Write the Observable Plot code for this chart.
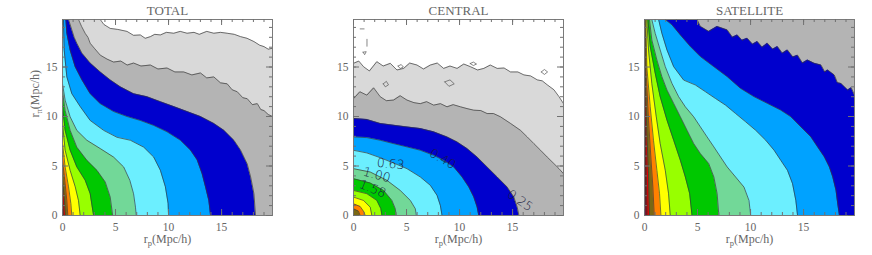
<!DOCTYPE html>
<html><head><meta charset="utf-8">
<script src="https://cdn.jsdelivr.net/npm/d3@7"></script>
<script src="https://cdn.jsdelivr.net/npm/@observablehq/plot@0.6"></script>
<style>
body{margin:0;background:#fff;width:872px;height:255px;overflow:hidden}
#row{display:flex}
</style></head><body><div id="row"></div>
<script>
const XMAX = 19.8, YMAX = 19.8;
const panelTitles = ["TOTAL", "CENTRAL", "SATELLITE"];
const majorTicks = [0, 5, 10, 15];
const minorTicks = [0,1,2,3,4,5,6,7,8,9,10,11,12,13,14,15,16,17,18,19];
const levelNames = ["0.10","0.16","0.25","0.40","0.63","1.00","1.58","2.51","3.98","6.31","10.0","15.8","25.1","39.8"];
const fillColors = ["#d9d9d9","#b4b4b4","#0000cd","#00a2ff","#6cefff","#72d898","#00c800","#98ff00","#ffff00","#ff8000","#7a6814","#e00000","#8b0000","#cc00cc"];

// TOTAL boundaries [rp, rpi]
const totalL010 = [[3.56,19.8],[3.9,19.3],[4.5,18.9],[5.2,18.8],[6.08,18.6],[6.7,18.2],[7.34,18.24],[7.8,17.9],[8.29,18.07],[8.7,18.3],[9.23,18.24],[9.8,18.5],[10.49,18.41],[11.1,18.6],[11.75,18.41],[12.4,18.5],[12.9,18.3],[13.6,18.6],[14.27,18.41],[14.9,18.5],[15.53,18.41],[16.2,18.3],[16.79,18.07],[17.4,17.9],[18.05,17.57],[18.6,17.2],[19.0,17.06],[19.4,16.8],[19.8,16.9]];
const totalL016 = [[1.51,19.8],[1.8,19.1],[2.14,18.4],[2.4,18.0],[2.61,17.4],[3.0,16.9],[3.56,16.2],[4.2,15.8],[4.82,15.5],[5.5,15.6],[6.1,15.2],[6.71,15.4],[7.4,15.1],[8.29,15.2],[9.0,14.8],[9.86,14.9],[10.6,14.5],[11.44,14.5],[12.2,14.2],[13.01,14.4],[13.6,13.9],[14.27,14.0],[14.9,13.4],[15.53,13.3],[16.0,12.7],[16.48,12.5],[17.0,11.9],[17.42,11.8],[17.9,11.2],[18.37,11.3],[18.7,10.7],[19.0,10.6],[19.4,10.2],[19.8,10.0]];
const totalL025 = [[0.57,19.8],[0.88,18.75],[1.1,18.0],[1.35,17.4],[1.83,16.4],[2.61,15.4],[3.56,14.5],[4.5,13.7],[5.45,13.0],[6.71,12.3],[7.97,12.0],[9.23,11.5],[10.49,11.0],[11.75,10.5],[13.01,10.0],[14.27,9.3],[15.22,8.6],[16.16,7.6],[16.79,6.6],[17.42,5.2],[17.74,3.9],[18.05,2.2],[18.2,0]];
const totalL040 = [[0.32,19.8],[0.41,18.4],[0.72,16.7],[1.2,15.0],[1.83,13.7],[2.61,12.3],[3.56,11.3],[4.82,10.5],[6.08,10.0],[7.34,9.6],[8.6,9.1],[9.86,8.45],[11.12,7.6],[12.07,6.6],[12.7,5.6],[13.17,4.2],[13.48,2.9],[13.8,1.5],[13.96,0]];
const totalL063 = [[0.09,19.8],[0.16,16.7],[0.41,14.0],[0.88,12.3],[1.67,11.0],[2.61,9.6],[3.88,8.6],[5.14,7.9],[6.4,7.6],[7.66,6.9],[8.6,5.9],[9.23,4.56],[9.7,2.9],[9.96,1.2],[10.0,0]];
const totalL100 = [[0,13.3],[0.25,11.65],[0.72,9.97],[1.35,8.6],[2.3,7.6],[3.56,6.76],[4.82,5.9],[5.77,4.9],[6.35,3.55],[6.7,2.2],[6.88,0.84],[6.95,0]];
const totalL158 = [[0,12.5],[0.25,10.6],[0.72,8.6],[1.35,6.9],[2.3,5.57],[3.25,4.56],[4.03,3.38],[4.5,1.86],[4.73,0]];
const totalL251 = [[0,11.0],[0.25,8.6],[0.72,6.6],[1.35,4.9],[2.14,3.55],[2.61,2.2],[2.93,0]];
const totalL398 = [[0,9.3],[0.25,6.6],[0.72,4.56],[1.2,2.9],[1.51,1.5],[1.67,0]];
const totalL631 = [[0,7.3],[0.25,4.9],[0.57,2.9],[0.79,1.2],[0.88,0]];
const totalL1000 = [[0,5.6],[0.25,3.2],[0.41,1.5],[0.5,0]];
const totalL1580 = [[0,3.55],[0.19,1.5],[0.28,0]];
const totalL2510 = [[0,2.2],[0.1,0]];

// CENTRAL boundaries
const centralL010 = [[0,15.37],[0.5,15.6],[0.95,15.03],[1.5,14.6],[2.2,15.54],[2.8,15.1],[3.47,15.37],[4.1,14.7],[4.73,14.86],[5.3,15.4],[5.99,15.2],[6.6,14.8],[7.25,15.2],[7.9,15.4],[8.5,14.86],[9.1,15.1],[9.77,14.86],[10.4,15.3],[11.03,15.03],[11.7,14.7],[12.29,14.86],[12.9,15.2],[13.55,14.86],[14.2,14.9],[14.81,14.5],[15.5,14.5],[16.07,14.2],[16.7,14.1],[17.33,13.7],[17.8,13.6],[18.27,13.2],[18.9,12.7],[19.38,12.0],[19.8,11.3]];
const centralL016 = [[0,11.8],[0.6,12.5],[1.26,12.16],[1.9,12.9],[2.52,12.0],[3.1,11.6],[3.78,11.66],[4.4,12.1],[5.04,11.66],[5.7,11.4],[6.3,11.3],[6.9,11.5],[7.56,11.15],[8.2,11.3],[8.82,10.98],[9.4,11.2],[10.08,10.98],[10.7,10.8],[11.34,10.64],[12.0,10.6],[12.6,10.3],[13.2,10.3],[13.86,9.97],[14.81,9.3],[15.75,8.6],[16.38,7.94],[17.01,7.26],[17.64,6.59],[18.27,5.9],[18.9,5.24],[19.38,4.73],[19.8,4.22]];
const centralL025 = [[0,9.8],[1.26,9.7],[2.52,9.3],[3.78,9.12],[5.04,8.95],[6.3,8.78],[7.56,8.45],[8.82,7.94],[9.77,7.43],[10.71,6.76],[11.66,5.9],[12.6,4.9],[13.55,3.89],[14.49,2.87],[15.12,1.86],[15.44,0.84],[15.6,0]];
const centralL040 = [[0,7.94],[1.26,7.87],[2.52,7.6],[3.78,7.26],[5.04,6.93],[6.3,6.59],[7.56,6.08],[8.5,5.57],[9.45,4.9],[10.24,3.89],[10.87,2.87],[11.34,1.86],[11.66,0.84],[11.81,0]];
const centralL063 = [[0,6.59],[1.26,6.32],[2.52,5.84],[3.78,5.3],[5.04,4.73],[6.3,3.89],[7.25,3.04],[7.88,2.03],[8.19,1.01],[8.35,0]];
const centralL100 = [[0,4.73],[1.58,4.39],[3.15,3.55],[4.41,2.53],[5.36,1.52],[5.83,0.68],[5.92,0]];
const centralL158 = [[0,3.72],[1.58,3.28],[2.84,2.53],[3.62,1.52],[3.94,0.68],[4.03,0]];
const centralL251 = [[0,2.53],[1.26,2.2],[2.2,1.52],[2.58,0.68],[2.68,0]];
const centralL398 = [[0,1.86],[0.95,1.52],[1.58,0.84],[1.73,0]];
const centralL631 = [[0,1.18],[0.63,0.91],[1.0,0.34],[1.1,0]];
const centralL1000 = [[0,0.68],[0.47,0.44],[0.63,0]];
// small isolated contour fragments in the CENTRAL outskirts [id, rp, rpi]
const centralIslands = [
  [1,0.63,18.85],[1,1.0,18.85],
  [2,1.27,17.8],[2,1.27,17.1],
  [3,0.9,16.5],[3,1.2,16.55],[3,1.05,16.25],[3,0.9,16.5],
  [4,4.2,15.1],[4,4.5,15.25],[4,4.7,15.0],[4,4.4,14.85],[4,4.2,15.1],
  [5,11.0,15.35],[5,11.3,15.5],[5,11.6,15.3],[5,11.3,15.15],[5,11.0,15.35],
  [6,8.6,13.5],[6,9.1,13.7],[6,9.5,13.3],[6,9.0,13.05],[6,8.6,13.5],
  [7,17.7,14.5],[7,18.0,14.75],[7,18.3,14.5],[7,18.0,14.25],[7,17.7,14.5],
  [8,2.8,13.3],[8,3.1,13.55],[8,3.3,13.2],[8,3.0,13.0],[8,2.8,13.3]
];
const centralLabelText = ["0.25","0.40","0.63","1.00","1.58"];
const centralLabelX = [15.7, 8.4, 3.5, 2.2, 1.8];
const centralLabelY = [1.5, 5.7, 5.2, 4.1, 2.7];
const centralLabelAngle = [35, 30, 5, 15, 22];

// SATELLITE boundaries
const satL025 = [[4.96,19.8],[5.27,19.1],[6.06,18.6],[6.85,19.1],[7.8,18.75],[8.3,18.0],[8.75,18.24],[9.2,17.7],[9.69,17.9],[10.2,17.3],[10.64,17.57],[11.1,17.0],[11.59,17.4],[12.1,16.8],[12.54,17.06],[13.0,16.4],[13.48,16.72],[14.0,16.0],[14.43,16.2],[14.9,15.4],[15.38,15.7],[16.01,15.37],[16.64,15.2],[17.0,14.5],[17.27,14.7],[17.9,14.19],[18.2,13.4],[18.53,13.34],[19.17,12.67],[19.5,12.9],[19.8,12.16]];
const satL040 = [[1.96,19.8],[2.59,19.26],[3.38,18.24],[4.33,17.06],[5.27,16.05],[6.54,15.03],[7.8,14.02],[9.06,12.84],[10.33,12.0],[11.59,11.32],[12.85,10.64],[13.8,9.97],[14.75,8.95],[15.69,7.94],[16.32,6.93],[16.96,5.91],[17.43,4.9],[17.75,3.89],[18.06,2.53],[18.22,1.18],[18.38,0]];
const satL063 = [[1.33,19.8],[1.64,18.4],[2.12,16.72],[2.75,15.03],[3.69,13.68],[4.8,13.18],[5.75,12.5],[6.69,11.82],[7.64,11.15],[8.59,10.3],[9.54,9.46],[10.48,8.61],[11.43,7.6],[12.22,6.59],[12.85,5.57],[13.48,4.56],[13.96,3.21],[14.27,1.52],[14.43,0]];
const satL100 = [[0.69,19.8],[1.01,18.4],[1.48,16.72],[1.96,15.03],[2.59,13.34],[3.22,12.0],[3.85,10.98],[4.64,9.97],[5.27,8.95],[5.9,7.94],[6.54,6.93],[7.17,5.91],[7.8,4.9],[8.59,3.89],[9.38,2.87],[9.85,1.52],[10.01,0]];
const satL158 = [[0.47,19.8],[0.69,17.74],[1.17,15.71],[1.64,14.02],[2.12,12.67],[2.75,11.32],[3.38,9.97],[4.01,8.61],[4.64,7.26],[5.27,6.25],[6.06,5.24],[6.54,3.89],[6.85,2.2],[7.01,0]];
const satL251 = [[0.32,19.8],[0.54,17.06],[1.01,14.36],[1.48,11.99],[2.12,9.63],[2.75,7.6],[3.38,5.57],[3.85,3.89],[4.26,2.2],[4.48,0]];
const satL398 = [[0.22,19.8],[0.38,16.72],[0.69,13.34],[1.11,9.97],[1.48,7.26],[1.96,4.56],[2.27,2.2],[2.43,0]];
const satL631 = [[0.13,19.8],[0.22,15.03],[0.54,10.98],[0.85,7.6],[1.17,4.56],[1.42,2.2],[1.55,0]];
const satL1000 = [[0.06,19.8],[0.16,14.36],[0.38,9.63],[0.6,5.91],[0.79,2.87],[0.92,0]];
const satL1580 = [[0.03,19.8],[0.09,13.34],[0.22,8.28],[0.38,4.22],[0.47,0]];
const satL2510 = [[0,16.72],[0.06,9.97],[0.16,4.9],[0.25,0]];
const satL3980 = [[0,11.65],[0.06,4.9],[0.13,0]];

const totalBounds = [totalL010,totalL016,totalL025,totalL040,totalL063,totalL100,totalL158,totalL251,totalL398,totalL631,totalL1000,totalL1580,totalL2510,null];
const centralBounds = [centralL010,centralL016,centralL025,centralL040,centralL063,centralL100,centralL158,centralL251,centralL398,centralL631,centralL1000,null,null,null];
const satBounds = [null,null,satL025,satL040,satL063,satL100,satL158,satL251,satL398,satL631,satL1000,satL1580,satL2510,satL3980];

function closePoly(pts) {
  const out = pts.slice();
  if (out[0][1] >= YMAX && out[0][0] > 0) out.unshift([0, YMAX]);
  const last = out[out.length - 1];
  if (last[0] >= XMAX && last[1] > 0) out.push([XMAX, 0]);
  return out;
}

const FONT = "'Liberation Serif', 'DejaVu Serif', serif";
const TXT = "#666";

function panel({title, bounds, frameFill, width, yLabel, labels, islands}) {
  const H = 255, mt = 19, mb = 40, ml = 62, iw = 210;
  const mr = width - ml - iw;
  const ih = H - mt - mb;
  const marks = [Plot.frame({fill: frameFill, stroke: null})];
  bounds.forEach((pts, i) => {
    if (pts) marks.push(Plot.area(closePoly(pts), {x1: d => d[0], y1: d => d[1], x2: () => 0, y2: () => 0, fill: fillColors[i], clip: true}));
  });
  bounds.forEach(pts => {
    if (pts) marks.push(Plot.line(pts, {x: d => d[0], y: d => d[1], stroke: "#3a3a3a", strokeWidth: 0.7, clip: true}));
  });
  if (islands) marks.push(Plot.line(islands, {x: d => d[1], y: d => d[2], z: d => d[0], stroke: "#555", strokeWidth: 0.7, clip: true}));
  if (labels) {
    const idx = labels.text.map((_, i) => i);
    marks.push(Plot.text(idx, {x: i => labels.x[i], y: i => labels.y[i], text: i => labels.text[i], rotate: i => labels.angle[i], fill: "#1a1a40", fontSize: 12.5, fontFamily: "'DejaVu Sans', sans-serif", fontWeight: 300}));
  }
  marks.push(Plot.frame({stroke: "#7a7a7a", strokeWidth: 1}));
  const tk = {stroke: "#707070", strokeWidth: 1};
  marks.push(Plot.tickX(minorTicks, {x: d => d, insetTop: ih - 3, ...tk}));
  marks.push(Plot.tickX(minorTicks, {x: d => d, insetBottom: ih - 3, ...tk}));
  marks.push(Plot.tickX(majorTicks, {x: d => d, insetTop: ih - 6, ...tk}));
  marks.push(Plot.tickX(majorTicks, {x: d => d, insetBottom: ih - 6, ...tk}));
  marks.push(Plot.tickY(minorTicks, {y: d => d, insetRight: iw - 3, ...tk}));
  marks.push(Plot.tickY(minorTicks, {y: d => d, insetLeft: iw - 3, ...tk}));
  marks.push(Plot.tickY(majorTicks, {y: d => d, insetRight: iw - 6, ...tk}));
  marks.push(Plot.tickY(majorTicks, {y: d => d, insetLeft: iw - 6, ...tk}));
  marks.push(Plot.axisX(majorTicks, {tickSize: 0, tickPadding: 7, label: null, fontSize: 11.5}));
  marks.push(Plot.axisY(majorTicks, {tickSize: 0, tickPadding: 5, label: null, fontSize: 11.5}));
  marks.push(Plot.text([title], {frameAnchor: "top", lineAnchor: "middle", dy: -9, fontSize: 13, fill: TXT}));
  marks.push(Plot.text(["rp(Mpc/h)"], {frameAnchor: "bottom", lineAnchor: "middle", dy: 24, fontSize: 12, fill: TXT}));
  if (yLabel) marks.push(Plot.text(["rπ(Mpc/h)"], {frameAnchor: "left", lineAnchor: "middle", dx: -27, rotate: -90, fontSize: 12, fill: TXT}));
  const svg = Plot.plot({
    width, height: H, marginTop: mt, marginBottom: mb, marginLeft: ml, marginRight: mr,
    x: {domain: [0, XMAX]}, y: {domain: [0, YMAX]},
    style: {fontFamily: FONT, color: TXT, background: "#fff", overflow: "visible"},
    marks
  });
  svg.querySelectorAll("text").forEach(t => {
    if (t.textContent === "rp(Mpc/h)") t.innerHTML = 'r<tspan dy="3" font-size="8.5">p</tspan><tspan dy="-3">(Mpc/h)</tspan>';
    if (t.textContent === "rπ(Mpc/h)") t.innerHTML = 'r<tspan dy="3" font-size="8.5">π</tspan><tspan dy="-3">(Mpc/h)</tspan>';
  });
  return svg;
}

const row = document.getElementById("row");
row.append(panel({title: panelTitles[0], bounds: totalBounds, frameFill: "#fff", width: 291, yLabel: true}));
row.append(panel({title: panelTitles[1], bounds: centralBounds, frameFill: "#fff", width: 291, yLabel: false, islands: centralIslands,
  labels: {text: centralLabelText, x: centralLabelX, y: centralLabelY, angle: centralLabelAngle}}));
row.append(panel({title: panelTitles[2], bounds: satBounds, frameFill: "#b4b4b4", width: 290, yLabel: false}));
</script></body></html>
